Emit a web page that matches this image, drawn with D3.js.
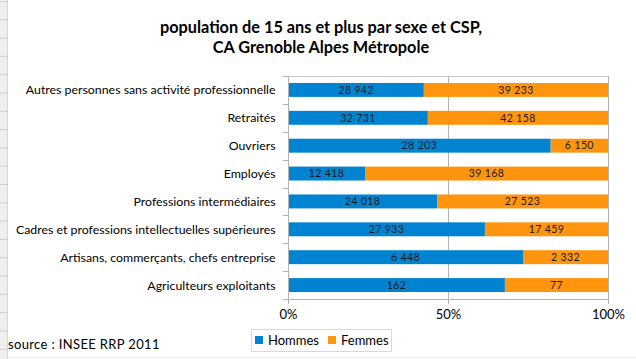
<!DOCTYPE html>
<html>
<head>
<meta charset="utf-8">
<script src="https://cdn.jsdelivr.net/npm/d3@7"></script>
<style>
  body { margin: 0; background: #fff; }
  svg { display: block; font-family: Lato, "Open Sans", sans-serif; }
</style>
</head>
<body>
<div id="app"></div>
<script>
// categories, top to bottom
const categories = [
  'Autres personnes sans activité professionnelle',
  'Retraités',
  'Ouvriers',
  'Employés',
  'Professions intermédiaires',
  'Cadres et professions intellectuelles supérieures',
  'Artisans, commerçants, chefs entreprise',
  'Agriculteurs exploitants'
];
const hommes = [28942, 32731, 28203, 12418, 24018, 27933, 6448, 162];
const femmes = [39233, 42158, 6150, 39168, 27523, 17459, 2332, 77];
const seriesNames = ['Hommes', 'Femmes'];
const seriesColors = ['#0084d1', '#ff950e'];
const tickValues = [0, 0.5, 1];
const titleLines = ['population de 15 ans et plus par sexe et CSP,', 'CA Grenoble Alpes Métropole'];
const sourceText = 'source : INSEE RRP 2011';

const W = 636, H = 359;
const margin = { top: 76, right: 28, bottom: 60, left: 288 };

const svg = d3.select('#app').append('svg')
  .attr('width', W)
  .attr('height', H);

// spreadsheet edge behind the chart
svg.append('rect').attr('x', 0).attr('y', 0).attr('width', 7).attr('height', H).attr('fill', '#efefef');
svg.append('line').attr('x1', 7.5).attr('x2', 7.5).attr('y1', 0).attr('y2', H).attr('stroke', '#d6d6d6');
svg.append('g').selectAll('line')
  .data(d3.range(20))
  .enter().append('line')
  .attr('x1', 0).attr('x2', 7)
  .attr('y1', d => 1.5 + d * 18.3).attr('y2', d => 1.5 + d * 18.3)
  .attr('stroke', '#cfcfcf');
svg.append('line').attr('x1', 8).attr('x2', W).attr('y1', 357.5).attr('y2', 357.5).attr('stroke', '#ececec');

// title
svg.append('text')
  .attr('x', 321).attr('y', 33)
  .attr('text-anchor', 'middle')
  .attr('font-size', 16.3).attr('font-weight', 'bold').attr('fill', '#000')
  .selectAll('tspan')
  .data(titleLines)
  .enter().append('tspan')
  .attr('x', 321)
  .attr('dy', (d, i) => i === 0 ? 0 : 19.5)
  .text(d => d);

const x = d3.scaleLinear().domain([0, 1]).range([margin.left, W - margin.right]);
const y = d3.scaleBand().domain(categories).range([margin.top, H - margin.bottom]).paddingInner(0.5).paddingOuter(0.25);

const rows = categories.map((c, i) => {
  const total = hommes[i] + femmes[i];
  return { cat: c, segs: [
    { s: 0, v: hommes[i], x0: 0, x1: hommes[i] / total },
    { s: 1, v: femmes[i], x0: hommes[i] / total, x1: 1 }
  ] };
});

// frame: top border and grid lines
svg.append('line')
  .attr('x1', x(0)).attr('x2', x(1))
  .attr('y1', margin.top + 0.5).attr('y2', margin.top + 0.5)
  .attr('stroke', '#c8c8c8');
svg.append('g')
  .selectAll('line')
  .data(tickValues.slice(1))
  .enter().append('line')
  .attr('x1', d => Math.round(x(d)) + 0.5).attr('x2', d => Math.round(x(d)) + 0.5)
  .attr('y1', margin.top).attr('y2', H - margin.bottom)
  .attr('stroke', '#b3b3b3');

// bars
const fmt = d3.formatLocale({ decimal: ',', thousands: ' ', grouping: [3], currency: ['', ''] }).format(',d');
const rowG = svg.append('g').selectAll('g')
  .data(rows)
  .enter().append('g')
  .attr('transform', d => `translate(0,${y(d.cat)})`);

rowG.selectAll('rect')
  .data(d => d.segs)
  .enter().append('rect')
  .attr('x', d => x(d.x0))
  .attr('width', d => x(d.x1) - x(d.x0))
  .attr('y', 0)
  .attr('height', y.bandwidth())
  .attr('fill', d => seriesColors[d.s]);

rowG.selectAll('text')
  .data(d => d.segs)
  .enter().append('text')
  .attr('x', d => (x(d.x0) + x(d.x1)) / 2)
  .attr('y', y.bandwidth() / 2 + 3.8)
  .attr('text-anchor', 'middle')
  .attr('font-size', 10.5)
  .attr('letter-spacing', 0.4)
  .attr('fill', '#1a1a1a')
  .text(d => fmt(d.v));

// left axis with ticks between categories
const yAxisG = svg.append('g');
yAxisG.append('line')
  .attr('x1', x(0) + 0.5).attr('x2', x(0) + 0.5)
  .attr('y1', margin.top).attr('y2', H - margin.bottom + 5)
  .attr('stroke', '#b3b3b3');
const step = y.step();
yAxisG.selectAll('line.tk')
  .data(d3.range(categories.length + 1))
  .enter().append('line')
  .attr('class', 'tk')
  .attr('x1', x(0) - 5).attr('x2', x(0))
  .attr('y1', d => Math.round(margin.top + d * step) + 0.5)
  .attr('y2', d => Math.round(margin.top + d * step) + 0.5)
  .attr('stroke', '#b3b3b3');
yAxisG.selectAll('text')
  .data(categories)
  .enter().append('text')
  .attr('x', 275.5)
  .attr('y', d => y(d) + y.bandwidth() / 2 + 4.5)
  .attr('text-anchor', 'end')
  .attr('font-size', 12.35)
  .attr('fill', '#000')
  .text(d => d);

// bottom axis
const xAxis = d3.axisBottom(x)
  .tickValues(tickValues)
  .tickSize(5)
  .tickPadding(6)
  .tickFormat(d3.format('.0%'));
const xAxisG = svg.append('g')
  .attr('transform', `translate(0,${H - margin.bottom})`)
  .call(xAxis);
xAxisG.select('.domain').attr('stroke', '#b3b3b3').attr('d', `M${x(0)},0.5H${x(1)}`);
xAxisG.selectAll('.tick line').attr('stroke', '#b3b3b3');
xAxisG.selectAll('.tick text')
  .attr('font-family', 'Lato, sans-serif')
  .attr('font-size', 13)
  .attr('fill', '#000');

// legend
const lg = svg.append('g');
lg.append('rect')
  .attr('x', 251.5).attr('y', 329.5).attr('width', 140).attr('height', 22)
  .attr('fill', '#fff').attr('stroke', '#b3b3b3').attr('stroke-dasharray', '1,1');
const items = lg.selectAll('g')
  .data(seriesNames)
  .enter().append('g')
  .attr('transform', (d, i) => `translate(${255 + i * 73},336)`);
items.append('rect')
  .attr('width', 8).attr('height', 8)
  .attr('fill', (d, i) => seriesColors[i]);
items.append('text')
  .attr('x', 13).attr('y', 8.5)
  .attr('font-size', 13)
  .attr('fill', '#000')
  .text(d => d);

// source
svg.append('text')
  .attr('x', 8).attr('y', 349)
  .attr('font-size', 13)
  .attr('letter-spacing', 0.35)
  .attr('fill', '#000')
  .text(sourceText);
</script>
</body>
</html>
